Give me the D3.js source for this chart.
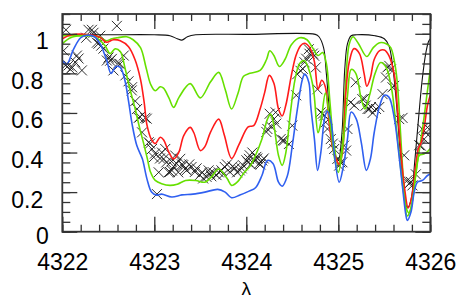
<!DOCTYPE html>
<html><head><meta charset="utf-8">
<script src="https://cdn.jsdelivr.net/npm/d3@7"></script>
<style>
html,body{margin:0;padding:0;background:#fff;}
svg{display:block;font-family:"Liberation Sans",Arial,Helvetica,sans-serif;}
</style></head>
<body>
<svg id="chart" width="463" height="299"></svg>
<script>
// ---------- data ----------
const xTickValues = [4322, 4323, 4324, 4325, 4326];
const xTickLabels = ["4322", "4323", "4324", "4325", "4326"];
const yTickValues = [0, 0.2, 0.4, 0.6, 0.8, 1];
const yTickLabels = ["0", "0.2", "0.4", "0.6", "0.8", "1"];
const xAxisTitle = "λ";

const blackLam = [4322.00,4322.50,4323.00,4323.17,4323.25,4323.30,4323.36,4323.45,4324.00,4324.75,4324.79,4324.84,4324.87,4324.91,4324.95,4325.00,4325.04,4325.07,4325.10,4325.14,4325.20,4325.40,4325.50,4325.55,4325.59,4325.63,4325.67,4325.71,4325.75,4325.79,4325.83,4325.87,4325.91,4325.95,4325.98,4326.00];
const blackFlux = [0.995,0.995,0.995,0.99,0.975,0.968,0.985,0.995,0.997,0.997,0.985,0.93,0.80,0.58,0.42,0.36,0.50,0.82,0.95,0.99,0.995,0.99,0.975,0.94,0.84,0.66,0.42,0.22,0.12,0.16,0.35,0.56,0.76,0.90,0.96,0.975];

const redLam = [4322.00,4322.10,4322.30,4322.41,4322.48,4322.555,4322.63,4322.72,4322.79,4322.85,4322.89,4322.92,4322.97,4323.01,4323.065,4323.10,4323.16,4323.21,4323.265,4323.32,4323.39,4323.43,4323.50,4323.55,4323.61,4323.70,4323.76,4323.84,4323.92,4324.02,4324.08,4324.15,4324.20,4324.25,4324.30,4324.35,4324.39,4324.43,4324.49,4324.54,4324.59,4324.63,4324.69,4324.74,4324.78,4324.82,4324.86,4324.90,4324.94,4324.975,4325.01,4325.045,4325.08,4325.12,4325.17,4325.23,4325.28,4325.31,4325.35,4325.39,4325.45,4325.50,4325.55,4325.61,4325.64,4325.68,4325.72,4325.76,4325.80,4325.84,4325.87,4325.90,4325.935,4325.97,4326.00];
const redFlux = [0.975,0.995,0.995,0.982,0.957,0.97,0.965,0.935,0.87,0.77,0.653,0.54,0.465,0.445,0.477,0.465,0.40,0.368,0.40,0.486,0.527,0.50,0.41,0.43,0.502,0.569,0.49,0.37,0.44,0.53,0.536,0.62,0.704,0.79,0.75,0.62,0.585,0.64,0.79,0.89,0.94,0.952,0.93,0.86,0.72,0.765,0.73,0.55,0.42,0.37,0.34,0.40,0.69,0.86,0.925,0.90,0.80,0.735,0.78,0.87,0.915,0.918,0.89,0.79,0.64,0.40,0.22,0.12,0.18,0.33,0.42,0.45,0.53,0.64,0.69];

const green1Lam = [4322.00,4322.30,4322.40,4322.48,4322.54,4322.60,4322.70,4322.77,4322.85,4322.91,4322.96,4323.01,4323.065,4323.10,4323.16,4323.21,4323.27,4323.39,4323.50,4323.61,4323.70,4323.77,4323.84,4323.91,4323.97,4324.04,4324.15,4324.22,4324.255,4324.30,4324.36,4324.42,4324.49,4324.58,4324.66,4324.72,4324.78,4324.83,4324.87,4324.91,4324.95,4325.00,4325.04,4325.08,4325.12,4325.16,4325.22,4325.31,4325.38,4325.45,4325.52,4325.57,4325.61,4325.64,4325.67,4325.71,4325.75,4325.79,4325.83,4325.87,4325.90,4325.93,4325.96,4326.00];
const green1Flux = [0.99,0.99,0.985,0.965,0.975,0.98,0.985,0.97,0.93,0.83,0.745,0.712,0.732,0.725,0.675,0.628,0.68,0.748,0.676,0.756,0.805,0.72,0.62,0.70,0.785,0.80,0.815,0.87,0.914,0.89,0.835,0.87,0.945,0.98,0.97,0.93,0.89,0.905,0.85,0.65,0.45,0.34,0.42,0.75,0.95,0.985,0.95,0.885,0.93,0.955,0.95,0.93,0.86,0.76,0.55,0.25,0.08,0.12,0.25,0.38,0.47,0.57,0.68,0.82];

const green2Lam = [4322.00,4322.09,4322.20,4322.32,4322.39,4322.465,4322.52,4322.575,4322.63,4322.68,4322.73,4322.79,4322.84,4322.89,4322.925,4322.96,4323.01,4323.08,4323.17,4323.25,4323.34,4323.45,4323.55,4323.62,4323.70,4323.79,4323.84,4323.90,4323.98,4324.04,4324.10,4324.17,4324.23,4324.265,4324.30,4324.35,4324.39,4324.43,4324.48,4324.53,4324.58,4324.63,4324.68,4324.73,4324.78,4324.81,4324.86,4324.91,4324.96,4325.00,4325.05,4325.10,4325.14,4325.19,4325.25,4325.29,4325.34,4325.40,4325.46,4325.52,4325.58,4325.62,4325.66,4325.70,4325.74,4325.77,4325.81,4325.845,4325.88,4325.93,4325.97,4326.00];
const green2Flux = [0.95,0.98,0.99,0.99,0.974,0.94,0.90,0.924,0.91,0.83,0.73,0.625,0.525,0.435,0.368,0.30,0.259,0.242,0.234,0.24,0.259,0.259,0.25,0.276,0.317,0.27,0.234,0.25,0.30,0.33,0.385,0.468,0.569,0.594,0.536,0.385,0.335,0.40,0.603,0.77,0.85,0.865,0.82,0.72,0.50,0.55,0.70,0.55,0.37,0.30,0.435,0.687,0.82,0.80,0.67,0.62,0.69,0.80,0.855,0.83,0.72,0.57,0.40,0.234,0.116,0.095,0.17,0.30,0.385,0.393,0.405,0.42];

const blueLam = [4322.00,4322.05,4322.12,4322.20,4322.27,4322.35,4322.41,4322.48,4322.53,4322.585,4322.63,4322.68,4322.72,4322.76,4322.81,4322.87,4322.92,4322.97,4323.02,4323.08,4323.19,4323.30,4323.42,4323.55,4323.69,4323.77,4323.84,4323.93,4324.03,4324.10,4324.17,4324.23,4324.29,4324.35,4324.39,4324.445,4324.50,4324.55,4324.61,4324.635,4324.68,4324.70,4324.74,4324.775,4324.81,4324.85,4324.88,4324.92,4324.955,4325.01,4325.055,4325.10,4325.14,4325.195,4325.25,4325.305,4325.35,4325.39,4325.45,4325.50,4325.55,4325.61,4325.66,4325.70,4325.735,4325.75,4325.79,4325.825,4325.86,4325.915,4325.97,4326.00];
const blueFlux = [0.865,0.847,0.92,0.98,0.993,0.985,0.95,0.87,0.80,0.835,0.83,0.765,0.66,0.54,0.435,0.368,0.267,0.20,0.185,0.19,0.175,0.186,0.19,0.20,0.214,0.20,0.172,0.185,0.205,0.222,0.284,0.36,0.345,0.25,0.23,0.28,0.435,0.603,0.77,0.796,0.754,0.637,0.47,0.31,0.40,0.57,0.61,0.56,0.40,0.25,0.33,0.47,0.605,0.57,0.45,0.31,0.37,0.50,0.637,0.69,0.68,0.57,0.385,0.217,0.083,0.057,0.10,0.20,0.25,0.259,0.284,0.29];

const obsLam = [4322.014,4322.033,4322.04,4322.068,4322.087,4322.108,4322.141,4322.159,4322.177,4322.213,4322.26,4322.285,4322.322,4322.339,4322.376,4322.393,4322.412,4322.423,4322.447,4322.484,4322.502,4322.52,4322.538,4322.556,4322.593,4322.607,4322.628,4322.668,4322.686,4322.72,4322.755,4322.758,4322.793,4322.813,4322.831,4322.845,4322.867,4322.902,4322.918,4322.939,4322.953,4322.975,4322.994,4323.008,4323.029,4323.048,4323.062,4323.083,4323.102,4323.119,4323.13,4323.156,4323.17,4323.188,4323.192,4323.21,4323.227,4323.243,4323.26,4323.282,4323.30,4323.314,4323.336,4323.351,4323.38,4323.405,4323.441,4323.46,4323.495,4323.52,4323.531,4323.568,4323.59,4323.603,4323.62,4323.639,4323.676,4323.70,4323.73,4323.75,4323.766,4323.79,4323.82,4323.85,4323.874,4323.90,4323.929,4323.95,4323.964,4324.001,4324.02,4324.029,4324.037,4324.05,4324.066,4324.083,4324.109,4324.12,4324.138,4324.155,4324.174,4324.19,4324.218,4324.229,4324.254,4324.272,4324.30,4324.319,4324.326,4324.373,4324.398,4324.409,4324.463,4324.50,4324.543,4324.554,4324.589,4324.614,4324.633,4324.651,4324.679,4324.687,4324.723,4324.738,4324.755,4324.773,4324.809,4324.831,4324.846,4324.863,4324.882,4324.918,4324.94,4324.955,4324.99,4325.009,4325.023,4325.044,4325.063,4325.085,4325.099,4325.134,4325.174,4325.19,4325.261,4325.283,4325.297,4325.318,4325.337,4325.355,4325.373,4325.41,4325.445,4325.481,4325.518,4325.535,4325.554,4325.572,4325.589,4325.608,4325.662,4325.698,4325.716,4325.752,4325.77,4325.789,4325.806,4325.843,4325.879,4325.897,4325.914,4325.933,4325.951,4325.969];
const obsFlux = [0.915,0.84,1.02,0.84,0.82,0.83,0.856,0.89,0.875,0.815,0.98,1.02,1.02,1.005,0.955,0.95,0.99,0.94,0.925,0.865,0.88,0.864,0.873,0.815,1.04,0.85,0.848,0.89,0.79,0.76,0.714,0.73,0.66,0.62,0.575,0.58,0.502,0.575,0.571,0.452,0.445,0.418,0.376,0.395,0.19,0.30,0.37,0.40,0.368,0.418,0.35,0.30,0.302,0.355,0.309,0.33,0.385,0.344,0.30,0.368,0.34,0.336,0.317,0.31,0.34,0.327,0.302,0.32,0.286,0.30,0.269,0.277,0.31,0.294,0.28,0.30,0.286,0.30,0.31,0.29,0.327,0.34,0.302,0.33,0.32,0.30,0.31,0.32,0.336,0.361,0.35,0.368,0.386,0.34,0.40,0.36,0.378,0.37,0.343,0.34,0.36,0.37,0.504,0.519,0.596,0.53,0.569,0.603,0.546,0.468,0.462,0.46,0.443,0.536,0.689,0.796,0.813,0.823,0.856,0.874,0.922,0.899,0.90,0.889,0.83,0.72,0.603,0.596,0.587,0.553,0.519,0.468,0.445,0.418,0.368,0.334,0.35,0.351,0.435,0.41,0.519,0.653,0.638,0.755,0.67,0.672,0.637,0.62,0.62,0.63,0.60,0.62,0.63,0.695,0.779,0.831,0.838,0.82,0.73,0.737,0.569,0.575,0.386,0.26,0.242,0.252,0.234,0.29,0.437,0.435,0.519,0.468,0.50,0.527];

// ---------- layout ----------
const svg = d3.select("#chart");
const L = 62.3, R = 430.3, T = 14, B = 231.7;
const x = d3.scaleLinear().domain([4322, 4326]).range([L, R]);
const y = d3.scaleLinear().domain([0, 1.1]).range([B, T]);

svg.append("defs").append("clipPath").attr("id", "clip")
  .append("rect").attr("x", L).attr("y", T).attr("width", R - L).attr("height", B - T);

const plot = svg.append("g").attr("clip-path", "url(#clip)");

// markers
const xs = 5;
plot.append("g").selectAll("path").data(obsLam.map((l, i) => [l, obsFlux[i]]))
  .join("path")
  .attr("d", d => {
    const px = x(d[0]), py = y(d[1]);
    return `M${px - xs},${py - xs}L${px + xs},${py + xs}M${px - xs},${py + xs}L${px + xs},${py - xs}`;
  })
  .attr("stroke", "#1a1a1a").attr("stroke-width", 0.9).attr("fill", "none");

const line = d3.line().x(d => x(d[0])).y(d => y(d[1])).curve(d3.curveCatmullRom.alpha(0.5));
const series = [
  {lam: blackLam, flux: blackFlux, color: "#111111", w: 1.1},
  {lam: green1Lam, flux: green1Flux, color: "#66e000", w: 1.6},
  {lam: redLam, flux: redFlux, color: "#ff1a1a", w: 1.6},
  {lam: green2Lam, flux: green2Flux, color: "#66e000", w: 1.6},
  {lam: blueLam, flux: blueFlux, color: "#3060f0", w: 1.6}
];
series.forEach(s => {
  plot.append("path")
    .datum(s.lam.map((l, i) => [l, s.flux[i]]))
    .attr("d", line).attr("fill", "none")
    .attr("stroke", s.color).attr("stroke-width", s.w);
});

// ---------- axes ----------
const axColor = "#333";
const xMinor = d3.range(4322, 4326.001, 0.2).map(v => +v.toFixed(1));
const yMinor = d3.range(0, 1.1001, 0.05).map(v => +v.toFixed(2));

function styleAxis(g) {
  g.select(".domain").remove();
  g.selectAll("line").attr("stroke", axColor).attr("stroke-width", 1.3);
}
// minor ticks
svg.append("g").attr("transform", `translate(0,${B})`).call(d3.axisBottom(x).tickValues(xMinor).tickSize(-7).tickFormat("")).call(styleAxis);
svg.append("g").attr("transform", `translate(0,${T})`).call(d3.axisTop(x).tickValues(xMinor).tickSize(-7).tickFormat("")).call(styleAxis);
svg.append("g").attr("transform", `translate(${L},0)`).call(d3.axisLeft(y).tickValues(yMinor).tickSize(-8).tickFormat("")).call(styleAxis);
svg.append("g").attr("transform", `translate(${R},0)`).call(d3.axisRight(y).tickValues(yMinor).tickSize(-8).tickFormat("")).call(styleAxis);
// major ticks
svg.append("g").attr("transform", `translate(0,${T})`).call(d3.axisTop(x).tickValues(xTickValues).tickSize(-15).tickFormat("")).call(styleAxis);
svg.append("g").attr("transform", `translate(${R},0)`).call(d3.axisRight(y).tickValues(yTickValues).tickSize(-15).tickFormat("")).call(styleAxis);

const xAx = svg.append("g").attr("transform", `translate(0,${B})`)
  .call(d3.axisBottom(x).tickValues(xTickValues).tickSize(-15).tickFormat((d, i) => xTickLabels[i]))
  .call(styleAxis);
xAx.selectAll("text").attr("y", 38.5).attr("dy", null)
  .attr("font-size", 23).attr("fill", "#000").attr("font-family", "Liberation Sans, Arial, sans-serif");

const yAx = svg.append("g").attr("transform", `translate(${L},0)`)
  .call(d3.axisLeft(y).tickValues(yTickValues).tickSize(-15).tickFormat((d, i) => yTickLabels[i]))
  .call(styleAxis);
yAx.selectAll("text")
  .attr("x", d => (String(d).length > 1 ? -19 : -13.5))
  .attr("dy", null).attr("y", d => (d === 0 ? 12 : 15))
  .attr("font-size", 23).attr("fill", "#000").attr("text-anchor", "end")
  .attr("font-family", "Liberation Sans, Arial, sans-serif");

// frame
svg.append("rect").attr("x", L).attr("y", T).attr("width", R - L).attr("height", B - T)
  .attr("fill", "none").attr("stroke", axColor).attr("stroke-width", 1.8);

// axis title
svg.append("text").attr("x", (L + R) / 2).attr("y", 295).attr("text-anchor", "middle")
  .attr("font-size", 19).attr("fill", "#000").text(xAxisTitle);
</script>
</body></html>
